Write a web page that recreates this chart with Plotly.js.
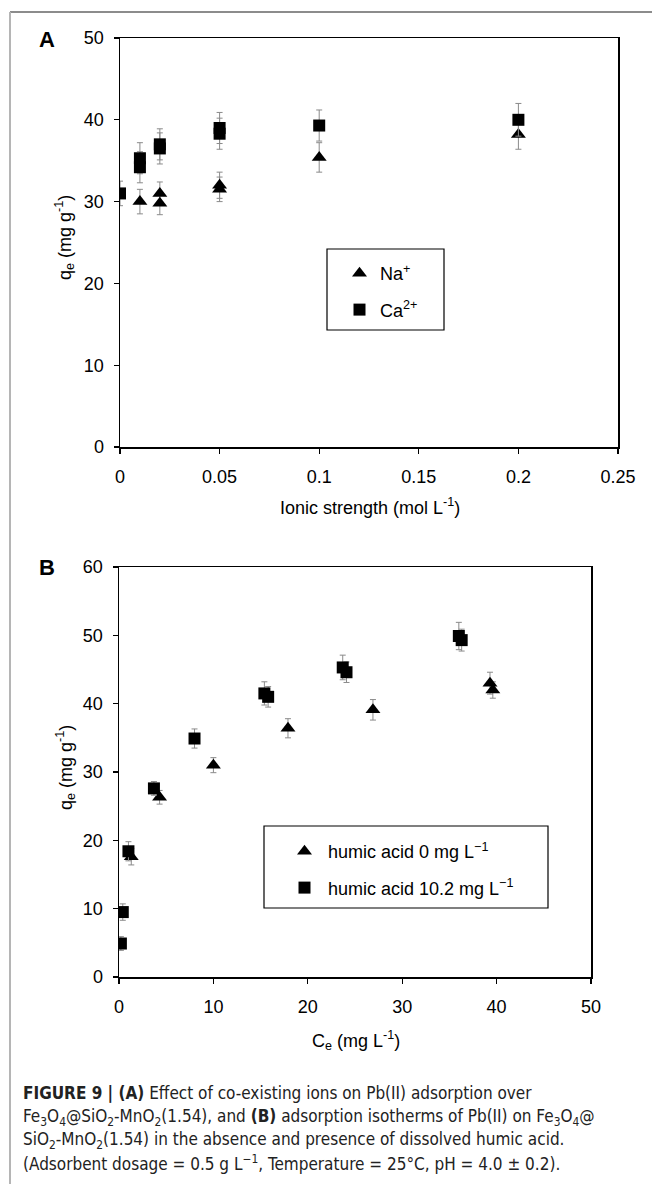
<!DOCTYPE html>
<html>
<head>
<meta charset="utf-8">
<script src="https://cdn.plot.ly/plotly-3.0.1.min.js"></script>
<style>html,body{margin:0;padding:0;background:#fff;}#chart{width:652px;height:1184px;}</style>
</head>
<body>
<div id="chart"></div>
<script>
// Panel A: effect of ionic strength
const ionicNa = [0.01, 0.02, 0.02, 0.05, 0.05, 0.1, 0.2];
const qeNa    = [30.0, 31.0, 29.8, 32.0, 31.5, 35.4, 38.2];
const errNa   = [1.5, 1.4, 1.4, 1.6, 1.5, 1.8, 1.8];

const ionicCa = [0, 0.01, 0.01, 0.02, 0.02, 0.05, 0.05, 0.1, 0.2];
const qeCa    = [31.0, 35.3, 34.2, 37.0, 36.5, 39.0, 38.3, 39.3, 40.0];
const errCa   = [1.5, 1.9, 1.9, 1.9, 1.9, 1.9, 1.9, 1.9, 2.0];

// Panel B: isotherms
const ceHA0  = [1.3, 4.3, 10.0, 17.9, 26.9, 39.3, 39.6];
const qeHA0  = [17.6, 26.3, 31.0, 36.4, 39.1, 43.0, 42.0];
const errHA0 = [1.2, 1.0, 1.1, 1.4, 1.5, 1.6, 1.2];

const ceHA10  = [0.2, 0.4, 1.0, 3.7, 8.0, 15.4, 15.8, 23.7, 24.1, 36.0, 36.3];
const qeHA10  = [4.9, 9.5, 18.4, 27.6, 34.9, 41.5, 41.0, 45.3, 44.6, 49.9, 49.3];
const errHA10 = [1.0, 1.2, 1.4, 1.0, 1.4, 1.7, 1.5, 1.8, 1.5, 2.0, 1.6];

const tickA_x = [0, 0.05, 0.1, 0.15, 0.2, 0.25];
const tickA_xt = ['0', '0.05', '0.1', '0.15', '0.2', '0.25'];
const tickA_y = [0, 10, 20, 30, 40, 50];
const tickB_x = [0, 10, 20, 30, 40, 50];
const tickB_y = [0, 10, 20, 30, 40, 50, 60];

const W = 652, H = 1184;
const px = v => v / W;
const py = v => 1 - v / H;

const FONT = 'Liberation Sans, Arial, sans-serif';
const ERRC = '#8a8a8a';

function errObj(arr) {
  return {type: 'data', array: arr, visible: true, color: ERRC, thickness: 1, width: 3};
}

const traces = [
  {x: ionicNa, y: qeNa, type: 'scatter', mode: 'markers', name: 'Na<sup>+</sup>',
   marker: {symbol: 'triangle-up', size: 13, color: '#000'}, error_y: errObj(errNa),
   xaxis: 'x', yaxis: 'y', legend: 'legend', legendgroup: 'na'},
  {x: ionicCa, y: qeCa, type: 'scatter', mode: 'markers', name: 'Ca<sup>2+</sup>',
   marker: {symbol: 'square', size: 12, color: '#000'}, error_y: errObj(errCa),
   xaxis: 'x', yaxis: 'y', legend: 'legend', legendgroup: 'ca'},
  {x: ceHA0, y: qeHA0, type: 'scatter', mode: 'markers', name: 'humic acid 0 mg L<sup>−1</sup>',
   marker: {symbol: 'triangle-up', size: 13, color: '#000'}, error_y: errObj(errHA0),
   xaxis: 'x2', yaxis: 'y2', legend: 'legend2', legendgroup: 'h0'},
  {x: ceHA10, y: qeHA10, type: 'scatter', mode: 'markers', name: 'humic acid 10.2 mg L<sup>−1</sup>',
   marker: {symbol: 'square', size: 12, color: '#000'}, error_y: errObj(errHA10),
   xaxis: 'x2', yaxis: 'y2', legend: 'legend2', legendgroup: 'h10'}
];

const axisCommon = {
  showline: true, linecolor: '#000', linewidth: 1.5, mirror: true,
  ticks: 'outside', ticklen: 5, tickwidth: 1.2, tickcolor: '#000',
  showgrid: false, zeroline: false, tickmode: 'array',
  tickfont: {family: FONT, size: 18, color: '#000'}, fixedrange: true
};

const capFont = {family: 'Liberation Sans Narrow, DejaVu Sans Condensed, Arial Narrow, sans-serif', size: 17, color: '#222'};

const layout = {
  width: W, height: H,
  margin: {l: 0, r: 0, t: 0, b: 0},
  paper_bgcolor: '#fff', plot_bgcolor: '#fff',
  showlegend: true,
  font: {family: FONT, color: '#000'},
  xaxis: Object.assign({}, axisCommon, {domain: [px(120), px(618)], range: [0, 0.25], anchor: 'y',
    tickvals: tickA_x, ticktext: tickA_xt, ticklabelstandoff: 8}),
  yaxis: Object.assign({}, axisCommon, {domain: [py(447), py(38)], range: [0, 50], anchor: 'x',
    tickvals: tickA_y, ticktext: tickA_y.map(String), ticklabelstandoff: 6}),
  xaxis2: Object.assign({}, axisCommon, {domain: [px(119), px(591)], range: [0, 50], anchor: 'y2',
    tickvals: tickB_x, ticktext: tickB_x.map(String), ticklabelstandoff: 8}),
  yaxis2: Object.assign({}, axisCommon, {domain: [py(977), py(567)], range: [0, 60], anchor: 'x2',
    tickvals: tickB_y, ticktext: tickB_y.map(String), ticklabelstandoff: 6}),
  legend: {x: px(339), y: py(255), xanchor: 'left', yanchor: 'top', bgcolor: 'rgba(0,0,0,0)',
    borderwidth: 0, font: {family: FONT, size: 18, color: '#000'}, itemwidth: 31,
    traceorder: 'grouped', tracegroupgap: 10},
  legend2: {x: px(281), y: py(833), xanchor: 'left', yanchor: 'top', bgcolor: 'rgba(0,0,0,0)',
    borderwidth: 0, font: {family: FONT, size: 18, color: '#000'}, itemwidth: 37,
    traceorder: 'grouped', tracegroupgap: 10},
  shapes: [
    {type: 'rect', xref: 'paper', yref: 'paper', x0: px(327), x1: px(444), y0: py(330), y1: py(249),
     line: {color: '#000', width: 1.2}, fillcolor: 'rgba(0,0,0,0)'},
    {type: 'rect', xref: 'paper', yref: 'paper', x0: px(264), x1: px(548), y0: py(908), y1: py(826),
     line: {color: '#000', width: 1.2}, fillcolor: 'rgba(0,0,0,0)'},
    {type: 'line', xref: 'paper', yref: 'paper', x0: px(10), x1: 1, y0: py(12), y1: py(12),
     line: {color: '#666', width: 1.5}},
    {type: 'line', xref: 'paper', yref: 'paper', x0: px(10), x1: px(10), y0: py(12), y1: 0,
     line: {color: '#b5b5b5', width: 2}}
  ],
  annotations: [
    {text: '<b>A</b>', xref: 'paper', yref: 'paper', x: px(47), y: py(40), showarrow: false,
     xanchor: 'center', yanchor: 'middle', font: {family: FONT, size: 22, color: '#000'}},
    {text: '<b>B</b>', xref: 'paper', yref: 'paper', x: px(47), y: py(567), showarrow: false,
     xanchor: 'center', yanchor: 'middle', font: {family: FONT, size: 22, color: '#000'}},
    {text: 'q<sub>e</sub> (mg g<sup>-1</sup>)', xref: 'paper', yref: 'paper', x: px(65), y: py(238),
     showarrow: false, textangle: -90, xanchor: 'center', yanchor: 'middle', font: {family: FONT, size: 18, color: '#000'}},
    {text: 'Ionic strength (mol L<sup>-1</sup>)', xref: 'paper', yref: 'paper', x: px(370), y: py(506),
     showarrow: false, xanchor: 'center', yanchor: 'middle', font: {family: FONT, size: 18, color: '#000'}},
    {text: 'q<sub>e</sub> (mg g<sup>-1</sup>)', xref: 'paper', yref: 'paper', x: px(65), y: py(768),
     showarrow: false, textangle: -90, xanchor: 'center', yanchor: 'middle', font: {family: FONT, size: 18, color: '#000'}},
    {text: 'C<sub>e</sub> (mg L<sup>-1</sup>)', xref: 'paper', yref: 'paper', x: px(356), y: py(1040),
     showarrow: false, xanchor: 'center', yanchor: 'middle', font: {family: FONT, size: 18, color: '#000'}},
    {text: '<b>FIGURE 9 | (A)</b> Effect of co-existing ions on Pb(II) adsorption over', xref: 'paper', yref: 'paper',
     x: px(21), y: py(1093), showarrow: false, xanchor: 'left', yanchor: 'middle', font: capFont},
    {text: 'Fe<sub>3</sub>O<sub>4</sub>@SiO<sub>2</sub>-MnO<sub>2</sub>(1.54), and <b>(B)</b> adsorption isotherms of Pb(II) on Fe<sub>3</sub>O<sub>4</sub>@',
     xref: 'paper', yref: 'paper', x: px(21), y: py(1117), showarrow: false, xanchor: 'left', yanchor: 'middle', font: capFont},
    {text: 'SiO<sub>2</sub>-MnO<sub>2</sub>(1.54) in the absence and presence of dissolved humic acid.',
     xref: 'paper', yref: 'paper', x: px(21), y: py(1140), showarrow: false, xanchor: 'left', yanchor: 'middle', font: capFont},
    {text: '(Adsorbent dosage = 0.5 g L<sup>−1</sup>, Temperature = 25°C, pH = 4.0 ± 0.2).',
     xref: 'paper', yref: 'paper', x: px(21), y: py(1163), showarrow: false, xanchor: 'left', yanchor: 'middle', font: capFont}
  ]
};

Plotly.newPlot('chart', traces, layout, {displayModeBar: false, staticPlot: true});
</script>
</body>
</html>
